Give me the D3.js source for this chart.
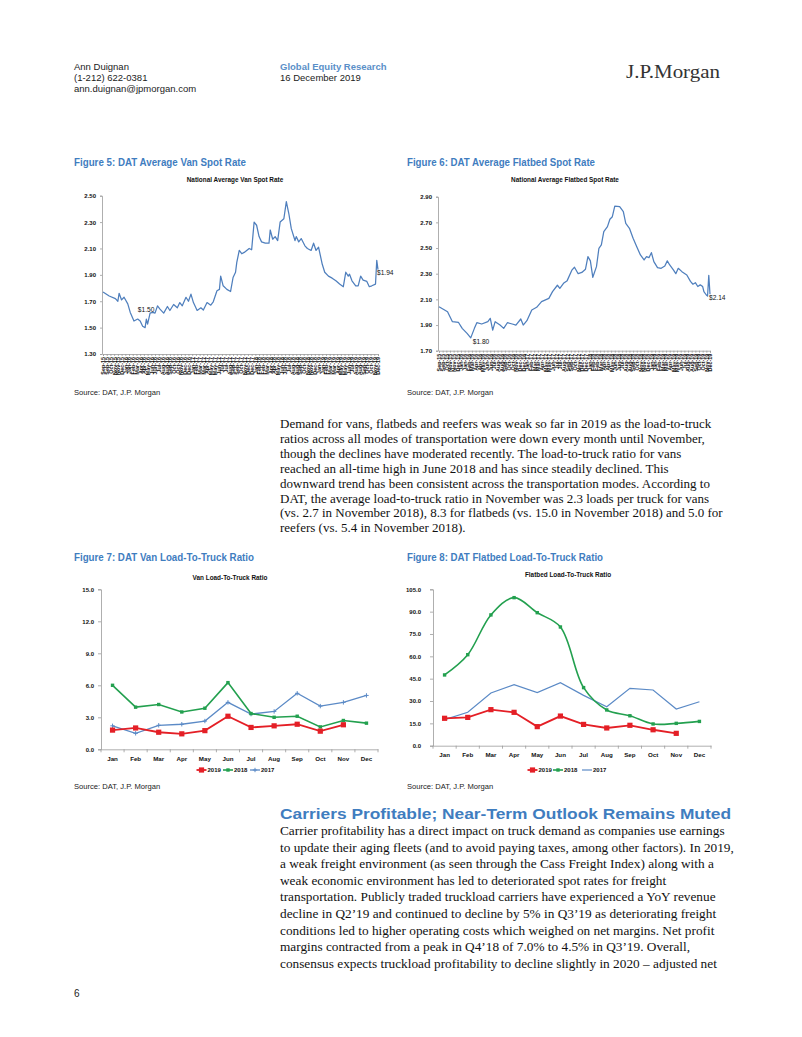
<!DOCTYPE html>
<html><head><meta charset="utf-8">
<script src="https://cdn.jsdelivr.net/npm/d3@7"></script>
<style>body{margin:0;background:#fff}svg{display:block}</style>
</head><body><svg id="page" width="802" height="1037"></svg>
<script>
// ---------------- DATA ----------------
// Weekly index since first week of Sep-2015
const vanWeek = [0,5,10,12,13,15,17,20,22,25,28,30,32,34,35,36,38,40,42,44,46,49,52,54,57,60,62,64,67,69,71,73,76,79,81,84,87,89,92,94,95,97,100,103,105,107,108,110,112,114,116,118,120,122,124,126,128,131,134,135,137,139,141,143,146,148,150,152,155,156,158,160,163,165,168,170,172,174,177,179,182,185,188,191,194,196,198,199,201,204,206,208,210,213,215,217,220,221,222];
const vanRate = [1.77,1.74,1.72,1.70,1.76,1.71,1.73,1.68,1.615,1.55,1.565,1.55,1.51,1.50,1.565,1.527,1.61,1.615,1.61,1.665,1.64,1.61,1.66,1.63,1.675,1.65,1.69,1.665,1.73,1.70,1.754,1.69,1.63,1.65,1.633,1.69,1.67,1.696,1.78,1.79,1.89,1.817,1.79,1.774,1.88,1.92,1.995,2.085,2.06,2.07,2.085,2.10,2.09,2.30,2.276,2.19,2.15,2.14,2.14,2.24,2.17,2.19,2.16,2.30,2.325,2.455,2.365,2.25,2.16,2.19,2.15,2.175,2.12,2.10,2.085,2.14,2.085,2.11,1.98,1.92,1.89,1.875,1.855,1.83,1.81,1.92,1.89,1.905,1.855,1.817,1.817,1.89,1.86,1.85,1.81,1.817,1.83,2.01,1.94];
const flatWeek = [0,7,11,16,19,23,26,29,31,35,40,42,44,46,50,53,56,60,63,67,69,72,76,80,84,90,93,97,99,102,105,109,111,114,117,120,122,124,126,129,131,133,135,138,140,142,144,148,151,153,156,159,162,165,168,170,172,174,176,179,182,185,187,189,192,194,196,199,203,206,208,210,212,214,216,217,219,220,221,222];
const flatRate = [2.043,2.004,1.926,1.92,1.874,1.835,1.80,1.874,1.918,1.908,1.926,1.952,1.86,1.926,1.90,1.874,1.918,1.908,1.90,1.947,1.90,1.934,2.017,2.038,2.082,2.108,2.16,2.21,2.186,2.225,2.246,2.33,2.35,2.30,2.31,2.335,2.433,2.40,2.272,2.355,2.498,2.524,2.628,2.667,2.724,2.744,2.827,2.822,2.783,2.692,2.654,2.576,2.51,2.446,2.407,2.433,2.425,2.464,2.394,2.347,2.342,2.36,2.40,2.368,2.33,2.30,2.342,2.316,2.29,2.24,2.218,2.23,2.20,2.213,2.20,2.16,2.134,2.126,2.287,2.14];
const vanTicks = [1.30,1.50,1.70,1.90,2.10,2.30,2.50];
const flatTicks = [1.70,1.90,2.10,2.30,2.50,2.70,2.90];

const months = ["Jan","Feb","Mar","Apr","May","Jun","Jul","Aug","Sep","Oct","Nov","Dec"];
const vanLTR2019 = [1.8,2.0,1.6,1.45,1.75,3.1,2.05,2.2,2.35,1.7,2.3];
const vanLTR2018 = [6.0,3.95,4.2,3.5,3.85,6.25,3.35,3.0,3.1,2.1,2.7,2.45];
const vanLTR2017 = [2.2,1.5,2.25,2.35,2.65,4.4,3.3,3.55,5.25,4.05,4.4,5.05];
const flatLTR2019 = [18.4,19.0,24.2,22.4,12.8,19.9,14.3,11.9,13.7,10.7,8.3];
const flatLTR2018 = [47.5,61.1,87.8,99.4,89.3,79.7,39.0,24.0,20.1,14.6,15.0,16.3];
const flatLTR2017 = [17.5,22.4,35.4,41.0,35.6,42.3,33.8,26.2,38.5,37.4,24.6,29.5];
const vanLTRTicks = [0,3,6,9,12,15];
const flatLTRTicks = [0,15,30,45,60,75,90,105];
const seriesNames = ["2019","2018","2017"];

const para1 = [
 "Demand for vans, flatbeds and reefers was weak so far in 2019 as the load-to-truck",
 "ratios across all modes of transportation were down every month until November,",
 "though the declines have moderated recently. The load-to-truck ratio for vans",
 "reached an all-time high in June 2018 and has since steadily declined. This",
 "downward trend has been consistent across the transportation modes. According to",
 "DAT, the average load-to-truck ratio in November was 2.3 loads per truck for vans",
 "(vs. 2.7 in November 2018), 8.3 for flatbeds (vs. 15.0 in November 2018) and 5.0 for",
 "reefers (vs. 5.4 in November 2018)."];
const para2 = [
 "Carrier profitability has a direct impact on truck demand as companies use earnings",
 "to update their aging fleets (and to avoid paying taxes, among other factors). In 2019,",
 "a weak freight environment (as seen through the Cass Freight Index) along with a",
 "weak economic environment has led to deteriorated spot rates for freight",
 "transportation. Publicly traded truckload carriers have experienced a YoY revenue",
 "decline in Q2\u201919 and continued to decline by 5% in Q3\u201919 as deteriorating freight",
 "conditions led to higher operating costs which weighed on net margins. Net profit",
 "margins contracted from a peak in Q4\u201918 of 7.0% to 4.5% in Q3\u201919. Overall,",
 "consensus expects truckload profitability to decline slightly in 2020 \u2013 adjusted net"];

// ---------------- DRAW ----------------
const SANS = "'Liberation Sans', Arial, sans-serif";
const SERIF = "'Liberation Serif', 'Times New Roman', serif";
const BLUE = "#3f7dbf";
const LINEBLUE = "#4f7fbd";
const RED = "#e41f26", GREEN = "#23a04f", B17 = "#5b8ac6";
const START = new Date(2015, 8, 4);
const fmt = d3.timeFormat("%b-%y");

const svg = d3.select("#page");
svg.append("rect").attr("width", 802).attr("height", 1037).attr("fill", "#fff");

function txt(x, y, s, o = {}) {
  const t = svg.append("text").attr("x", x).attr("y", y).text(s)
    .attr("font-family", o.family || SANS).attr("font-size", o.size || 9)
    .attr("font-weight", o.weight || "normal").attr("fill", o.fill || "#111")
    .attr("text-anchor", o.anchor || "start");
  if (o.len) t.attr("textLength", o.len).attr("lengthAdjust", "spacingAndGlyphs");
  return t;
}

// header
txt(74, 70, "Ann Duignan", {size: 9.5, fill: "#222"});
txt(74, 81, "(1-212) 622-0381", {size: 9.5, fill: "#222"});
txt(74, 92, "ann.duignan@jpmorgan.com", {size: 9.5, fill: "#222"});
txt(280, 70, "Global Equity Research", {size: 9.5, fill: "#5a8fc8", weight: "bold"});
txt(280, 81, "16 December 2019", {size: 9.5, fill: "#222"});
txt(626, 78, "J.P.Morgan", {size: 19, family: SERIF, fill: "#333", len: 94});

// figure titles & sources
txt(74, 166, "Figure 5: DAT Average Van Spot Rate", {size: 10.5, weight: "bold", fill: BLUE, len: 172});
txt(407, 166, "Figure 6: DAT Average Flatbed Spot Rate", {size: 10.5, weight: "bold", fill: BLUE, len: 188});
txt(74, 561, "Figure 7: DAT Van Load-To-Truck Ratio", {size: 10.5, weight: "bold", fill: BLUE, len: 180});
txt(407, 561, "Figure 8: DAT Flatbed Load-To-Truck Ratio", {size: 10.5, weight: "bold", fill: BLUE, len: 196});
[[74, 395], [407, 395], [74, 789], [407, 789]].forEach(p => txt(p[0], p[1], "Source: DAT, J.P. Morgan", {size: 7.6, fill: "#222"}));

function styleAxis(g, size) {
  g.select(".domain").attr("stroke", "#9a9a9a").attr("stroke-width", 0.8);
  g.selectAll(".tick line").attr("stroke", "#9a9a9a").attr("stroke-width", 0.8);
  g.selectAll("text").attr("font-family", SANS).attr("font-size", size)
    .attr("font-weight", "bold").attr("fill", "#111");
}

function spotChart(c) {
  const x = d3.scaleLinear().domain([0, 222]).range([c.x0, c.x1]);
  const y = d3.scaleLinear().domain([c.ticks[0], c.ticks[c.ticks.length - 1]]).range([c.yB, c.yT]);
  txt(c.titleX, 182, c.title, {size: 6.4, weight: "bold", anchor: "middle"});
  const ga = svg.append("g").attr("transform", `translate(${c.x0 - 1},0)`)
    .call(d3.axisLeft(y).tickValues(c.ticks).tickFormat(d3.format(".2f")).tickSize(2).tickPadding(4));
  styleAxis(ga, 6);
  const tickWeeks = d3.range(0, 223, 3);
  const gx = svg.append("g").attr("transform", `translate(0,${c.yB})`)
    .call(d3.axisBottom(x).tickValues(tickWeeks).tickSize(2)
      .tickFormat(w => fmt(d3.timeWeek.offset(START, w))));
  styleAxis(gx, 5.4);
  gx.selectAll("text").attr("transform", "rotate(-90)").attr("text-anchor", "end")
    .attr("x", -3).attr("y", 0).attr("dy", "0.35em");
  const line = d3.line().x((d, i) => x(c.weeks[i])).y(d => y(d));
  svg.append("path").datum(c.values).attr("d", line).attr("fill", "none")
    .attr("stroke", LINEBLUE).attr("stroke-width", 1.25).attr("stroke-linejoin", "round");
  c.notes.forEach(n => {
    const i = n.idx < 0 ? c.values.length + n.idx : n.idx;
    txt(x(c.weeks[i]) + n.dx, y(c.values[i]) + n.dy, "$" + c.values[i].toFixed(2),
      {size: 6.6, anchor: n.anchor, fill: "#111"});
  });
}

spotChart({x0: 103, x1: 378, yT: 195.7, yB: 354, ticks: vanTicks, weeks: vanWeek, values: vanRate,
  title: "National Average Van Spot Rate", titleX: 235,
  notes: [{idx: vanRate.indexOf(d3.min(vanRate)), dx: 1, dy: -16, anchor: "middle"},
          {idx: -1, dx: -1, dy: 5, anchor: "start"}]});
spotChart({x0: 439, x1: 710, yT: 196.7, yB: 350.7, ticks: flatTicks, weeks: flatWeek, values: flatRate,
  title: "National Average Flatbed Spot Rate", titleX: 565,
  notes: [{idx: flatRate.indexOf(d3.min(flatRate)), dx: 2, dy: 6, anchor: "start"},
          {idx: -1, dx: -1, dy: 6, anchor: "start"}]});

function marker(g, type, cx, cy, color) {
  if (type === "bigsq") g.append("rect").attr("x", cx - 2.6).attr("y", cy - 2.6).attr("width", 5.2).attr("height", 5.2).attr("fill", color);
  else if (type === "smsq") g.append("rect").attr("x", cx - 1.7).attr("y", cy - 1.7).attr("width", 3.4).attr("height", 3.4).attr("fill", color);
  else if (type === "cross") g.append("path").attr("d", `M${cx - 2.2},${cy}H${cx + 2.2}M${cx},${cy - 2.2}V${cy + 2.2}`)
    .attr("stroke", color).attr("stroke-width", 1);
}

function ltrChart(c) {
  const xb = d3.scaleBand().domain(months).range([c.x0, c.x1]);
  const xc = m => xb(m) + xb.bandwidth() / 2;
  const y = d3.scaleLinear().domain([0, c.ticks[c.ticks.length - 1]]).range([c.yB, c.yT]);
  txt(c.titleX, c.titleY, c.title, {size: 6.4, weight: "bold", anchor: "middle"});
  const ga = svg.append("g").attr("transform", `translate(${c.x0},0)`)
    .call(d3.axisLeft(y).tickValues(c.ticks).tickFormat(d3.format(".1f")).tickSize(3).tickPadding(c.pad));
  styleAxis(ga, 6);
  const gx = svg.append("g").attr("transform", `translate(0,${c.yB})`)
    .call(d3.axisBottom(xb).tickSize(0).tickPadding(7));
  styleAxis(gx, 6.2);
  const bounds = months.map(m => xb(m)).concat([c.x1]);
  svg.append("g").selectAll("line").data(bounds).join("line")
    .attr("x1", d => d).attr("x2", d => d).attr("y1", c.yB).attr("y2", c.yB + 3)
    .attr("stroke", "#9a9a9a").attr("stroke-width", 0.8);
  c.series.slice().reverse().forEach(s => {
    const line = d3.line().x((d, i) => xc(months[i])).y(d => y(d)).curve(s.curve || d3.curveLinear);
    svg.append("path").datum(s.values).attr("d", line)
      .attr("fill", "none").attr("stroke", s.color).attr("stroke-width", s.width);
    const g = svg.append("g");
    s.values.forEach((v, i) => marker(g, s.marker, xc(months[i]), y(v), s.color));
  });
  // legend
  c.series.forEach((s, k) => {
    const lx = c.legendX[k], ly = 770;
    svg.append("line").attr("x1", lx).attr("x2", lx + 10).attr("y1", ly).attr("y2", ly)
      .attr("stroke", s.color).attr("stroke-width", s.width);
    marker(svg, s.marker, lx + 5, ly, s.color);
    txt(lx + 11, ly + 2.2, s.name, {size: 6, weight: "bold"});
  });
}

ltrChart({x0: 101, x1: 378, yT: 589.3, yB: 749.3, ticks: vanLTRTicks, pad: 4,
  title: "Van Load-To-Truck Ratio", titleX: 230, titleY: 579.5, legendX: [196.5, 223, 250],
  series: [
    {name: seriesNames[0], values: vanLTR2019, color: RED, width: 1.8, marker: "bigsq"},
    {name: seriesNames[1], values: vanLTR2018, color: GREEN, width: 1.6, marker: "smsq"},
    {name: seriesNames[2], values: vanLTR2017, color: B17, width: 1.3, marker: "cross"}]});
ltrChart({x0: 433, x1: 711, yT: 589.3, yB: 745.7, ticks: flatLTRTicks, pad: 9,
  title: "Flatbed Load-To-Truck Ratio", titleX: 568, titleY: 577, legendX: [527.5, 553, 582],
  series: [
    {name: seriesNames[0], values: flatLTR2019, color: RED, width: 1.8, marker: "bigsq"},
    {name: seriesNames[1], values: flatLTR2018, color: GREEN, width: 1.6, marker: "smsq", curve: d3.curveCatmullRom.alpha(0.5)},
    {name: seriesNames[2], values: flatLTR2017, color: B17, width: 1.2, marker: "none"}]});

// paragraphs
para1.forEach((l, i) => txt(280, 428 + i * 14.9, l, {size: 13, family: SERIF, fill: "#111"}));
txt(280, 819, "Carriers Profitable; Near-Term Outlook Remains Muted", {size: 15.5, weight: "bold", fill: BLUE, len: 451});
para2.forEach((l, i) => txt(280, 835 + i * 16.6, l, {size: 13.3, family: SERIF, fill: "#111"}));
txt(74, 997, "6", {size: 10, fill: "#222"});
</script>
</body></html>
